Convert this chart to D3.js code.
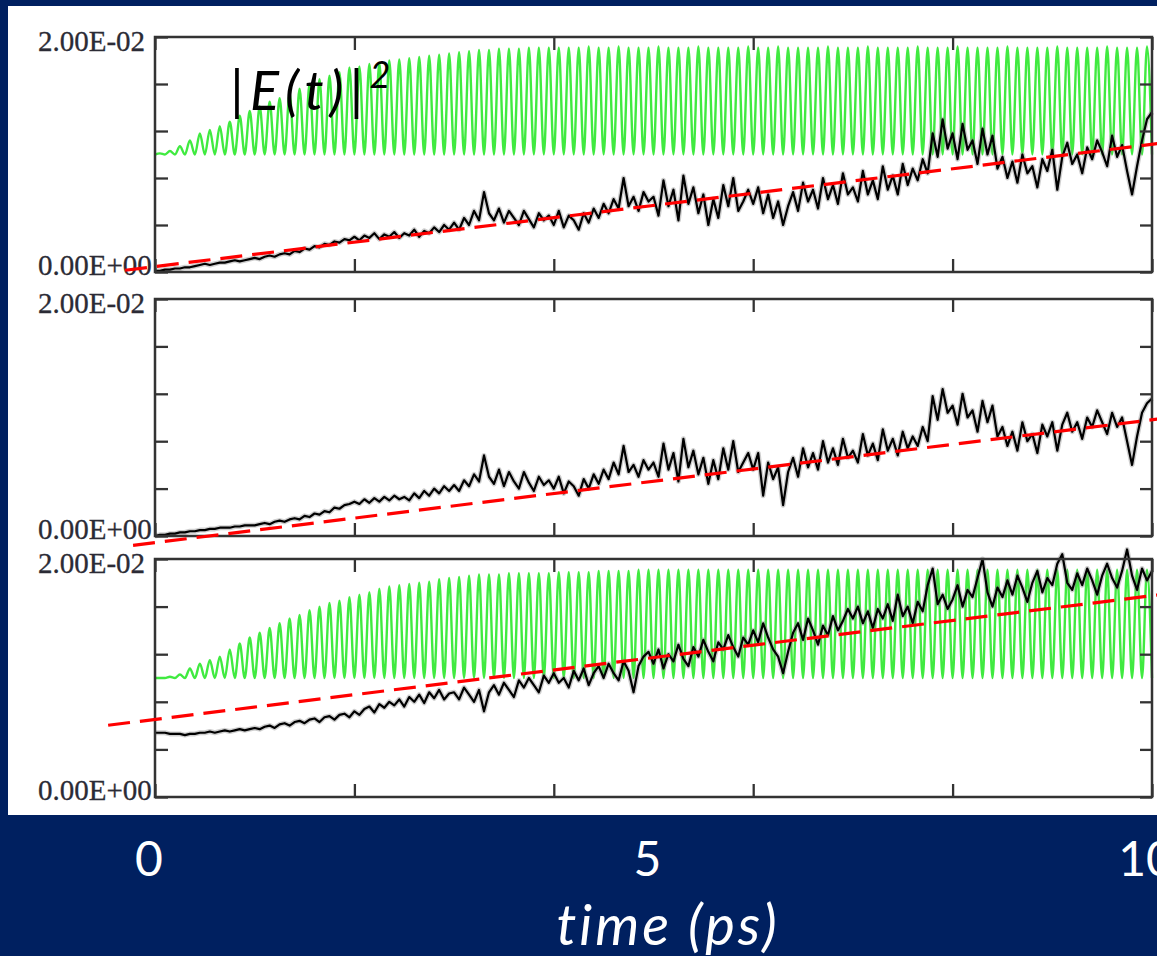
<!DOCTYPE html>
<html><head><meta charset="utf-8">
<script src="https://cdn.jsdelivr.net/npm/d3@7"></script>
<style>html,body{margin:0;padding:0;background:#002060;overflow:hidden}svg{display:block}</style>
</head><body>
<svg id="chart" width="1157" height="956"></svg>
<script>
// ---------------- data (values in units of 1e-4) ----------------
const UNIT = 1e-4;
const xTicks = [0, 2, 4, 6, 8, 10];
const xLabels = [0, 5, 10];
const yTicks = [0, 40, 80, 120, 160, 200];
const yTickLabels = ["0.00E+00", "2.00E-02"];
const tStep = 0.05;        // sampling step of the black series (ps)
const greenPeriod = 0.1;   // oscillation period of the green series (ps)
const greenTrough = 100;

const green1Peaks = [101,103,107,112,118,121,124,128,133,137, 141,145,148,152,156,160,164,167,170,174,
 175,177,178,180,181,182,183,184,185,186, 187,188,189,189,190,190,190,191,191,191,
 191,191,191,192,191,191,192,191,191,191, 192,191,191,191,192,191,191,191,191,192,
 191,191,192,191,191,191,191,192,191,191, 191,192,191,191,191,191,192,191,191,191,
 192,191,191,191,191,192,191,191,191,191, 192,191,191,191,191,192,191,191,191,192];

const green3Peaks = [100,101,103,108,112,115,118,124,129,134, 138,142,146,150,153,157,160,163,165,168,
 170,172,175,177,178,179,180,181,183,184, 185,186,187,187,187,188,188,188,188,188,
 189,189,189,189,190,190,190,190,191,191, 191,191,191,191,191,191,191,191,191,191,
 191,191,191,191,191,191,191,191,191,191, 191,191,191,191,191,191,191,191,191,191,
 191,191,191,191,191,191,191,191,191,191, 191,191,191,191,191,191,191,191,191,191];

const black1 = [1,1,2,2,3,3,4,4,5,6,7,6,7,8,8,9,10,9,10,11,
 12,11,13,14,13,15,16,15,18,17,20,19,22,21,24,23,26,25,28,27,
 30,27,31,29,33,28,32,30,34,29,33,31,36,30,35,33,38,34,40,36,
 42,36,46,40,52,44,68,50,44,54,42,52,46,40,52,45,38,50,44,48,
 40,52,38,48,44,36,50,42,54,46,58,50,62,54,80,56,64,52,68,60,
 64,48,78,56,70,44,82,58,72,50,66,40,62,46,74,56,80,52,60,70,
 58,72,50,66,46,60,40,56,68,52,76,60,70,54,80,62,74,58,84,66,
 72,60,86,66,78,62,90,70,82,66,92,74,88,78,96,84,118,98,130,105,
 118,96,126,104,112,92,122,100,116,88,98,80,94,76,100,84,90,72,96,86,
 104,70,98,110,92,100,84,106,96,112,102,90,116,98,108,86,66,90,112,130,
 136];

const black2 = [0,1,1,2,2,3,3,4,4,5,5,6,6,7,7,7,8,8,9,9,
 9,10,11,10,12,13,12,14,15,14,17,16,19,18,21,20,24,23,26,27,
 29,27,31,28,32,29,33,30,34,31,33,30,36,32,38,34,40,36,42,38,
 43,38,47,42,52,46,68,50,44,56,42,54,46,40,54,45,38,50,43,47,
 40,50,36,46,42,34,48,40,52,44,56,48,62,52,76,54,60,50,64,56,
 62,50,78,56,70,46,82,58,72,52,66,44,64,48,74,56,80,54,62,70,
 56,70,34,62,48,58,26,54,66,50,74,58,70,56,80,62,74,60,82,66,
 72,62,86,68,78,64,90,72,82,68,88,74,84,76,92,80,118,98,124,104,
 110,94,120,100,106,88,114,96,110,84,92,76,88,72,96,80,86,70,94,84,
 96,72,94,104,88,96,82,100,92,106,96,86,104,92,100,80,60,84,104,112,
 116];

const black3 = [54,54,54,53,53,53,52,53,53,54,54,55,54,55,56,55,56,57,56,57,
 58,57,59,60,58,61,62,60,63,64,62,65,66,63,67,68,65,69,70,67,
 72,69,74,76,71,78,75,80,77,82,76,84,80,86,79,88,83,90,82,87,
 88,82,92,86,80,90,72,88,94,86,96,90,84,98,92,100,94,88,102,96,
 104,96,100,92,106,98,108,94,104,110,100,112,104,98,114,106,88,110,118,122,
 112,124,108,120,114,128,116,110,126,118,132,122,114,130,124,136,126,118,134,128,
 140,130,146,134,124,118,104,122,138,146,132,150,140,128,144,136,152,140,148,158,
 150,160,146,156,142,158,150,162,148,170,152,160,146,164,156,178,192,162,170,158,
 166,178,160,174,168,184,200,172,160,176,168,182,170,186,176,164,180,190,172,184,
 178,196,204,180,174,188,178,192,182,170,186,196,184,176,190,208,186,174,192,182,
 190];

// red dashed fit lines: [time, value] end points
const red1 = [[-0.3, 1.5], [10.1, 109.7]];
const red2 = [[-0.22, -7.9], [10.1, 99.1]];
const red3 = [[-0.47, 60.3], [10.1, 170.2]];

// ---------------- drawing ----------------
const svg = d3.select("#chart");
svg.append("rect").attr("x", 0).attr("y", 0).attr("width", 1157).attr("height", 956).attr("fill", "#002060");
svg.append("rect").attr("x", 8).attr("y", 6).attr("width", 1149).attr("height", 809).attr("fill", "#ffffff");

const x = d3.scaleLinear().domain([0, 10]).range([155, 1152]);

const panels = [
  {top: 37, bottom: 272, green: green1Peaks, black: black1, red: red1},
  {top: 299, bottom: 536, green: null, black: black2, red: red2},
  {top: 559, bottom: 797, green: green3Peaks, black: black3, red: red3}
];

const axisColor = "#333";

panels.forEach(p => {
  const y = d3.scaleLinear().domain([0, 200 * UNIT]).range([p.bottom, p.top]);
  const g = svg.append("g");

  // green oscillation
  if (p.green) {
    const pts = [];
    p.green.forEach((v, i) => {
      pts.push([i * greenPeriod, greenTrough]);
      pts.push([i * greenPeriod + greenPeriod / 2, v]);
    });
    pts.push([p.green.length * greenPeriod, greenTrough]);
    g.append("path")
      .attr("d", d3.line().x(d => x(d[0])).y(d => y(d[1] * UNIT)).curve(d3.curveMonotoneX)(pts))
      .attr("fill", "none").attr("stroke", "#1ee61e").attr("stroke-width", 2.4).attr("stroke-opacity", 0.85);
  }

  // black noisy series
  const bl = d3.line().x((d, i) => x(i * tStep)).y(d => y(d * UNIT));
  g.append("path").attr("d", bl(p.black)).attr("fill", "none")
    .attr("stroke", "#888").attr("stroke-width", 5).attr("stroke-opacity", 0.4).attr("stroke-linejoin", "round");
  g.append("path").attr("d", bl(p.black)).attr("fill", "none")
    .attr("stroke", "#000").attr("stroke-width", 2.2).attr("stroke-linejoin", "round");

  // axes (inward ticks on all four sides)
  const style = sel => {
    sel.select(".domain").remove();
    sel.selectAll(".tick line").attr("stroke", axisColor).attr("stroke-width", 2.3);
    sel.selectAll(".tick text").remove();
  };
  g.append("g").attr("transform", `translate(${x(0)},0)`)
    .call(d3.axisRight(y).tickValues(yTicks.map(v => v * UNIT)).tickSize(13)).call(style);
  g.append("g").attr("transform", `translate(${x(10)},0)`)
    .call(d3.axisLeft(y).tickValues(yTicks.map(v => v * UNIT)).tickSize(12)).call(style);
  g.append("g").attr("transform", `translate(0,${p.top})`)
    .call(d3.axisBottom(x).tickValues(xTicks).tickSize(13)).call(style);
  g.append("g").attr("transform", `translate(0,${p.bottom})`)
    .call(d3.axisTop(x).tickValues(xTicks).tickSize(13)).call(style);
  g.append("rect").attr("x", x(0)).attr("y", p.top).attr("width", x(10) - x(0)).attr("height", p.bottom - p.top)
    .attr("fill", "none").attr("stroke", axisColor).attr("stroke-width", 2.5);

  // y labels
  const yl = [[200, 14, yTickLabels[1]], [0, 3, yTickLabels[0]]];
  yl.forEach(([v, off, s]) => {
    g.append("text").attr("x", 38).attr("y", y(v * UNIT) + off).text(s)
      .attr("font-family", "'Liberation Serif', 'Times New Roman', serif").attr("font-size", 29)
      .attr("fill", "#2b2b35").attr("stroke", "#2b2b35").attr("stroke-width", 0.3);
  });

  // red dashed fit
  g.append("path")
    .attr("d", d3.line().x(d => x(d[0])).y(d => y(d[1] * UNIT))(p.red))
    .attr("fill", "none").attr("stroke", "#ff0000").attr("stroke-width", 3.2).attr("stroke-dasharray", "22,10");
});

// |E(t)|^2 label
const lab = svg.append("text").attr("x", 230).attr("y", 110)
  .attr("font-family", "Lato, 'Open Sans', sans-serif").attr("font-style", "italic")
  .attr("font-size", 54).attr("letter-spacing", 6).attr("fill", "#000");
lab.append("tspan").text("|E(t)|");
lab.append("tspan").attr("font-size", 36).attr("dy", -22).text("2");

// bottom x labels
svg.selectAll("text.xl").data(xLabels).join("text").attr("class", "xl")
  .attr("x", d => x(d) - 6).attr("y", 876).attr("text-anchor", "middle")
  .attr("font-family", "Lato, 'Open Sans', sans-serif").attr("font-size", 48).attr("fill", "#fff")
  .text(d => d);

svg.append("text").attr("x", 668).attr("y", 945).attr("text-anchor", "middle")
  .attr("font-family", "Lato, 'Open Sans', sans-serif").attr("font-style", "italic")
  .attr("font-size", 56).attr("letter-spacing", 3).attr("fill", "#fff").text("time (ps)");
</script>
</body></html>
